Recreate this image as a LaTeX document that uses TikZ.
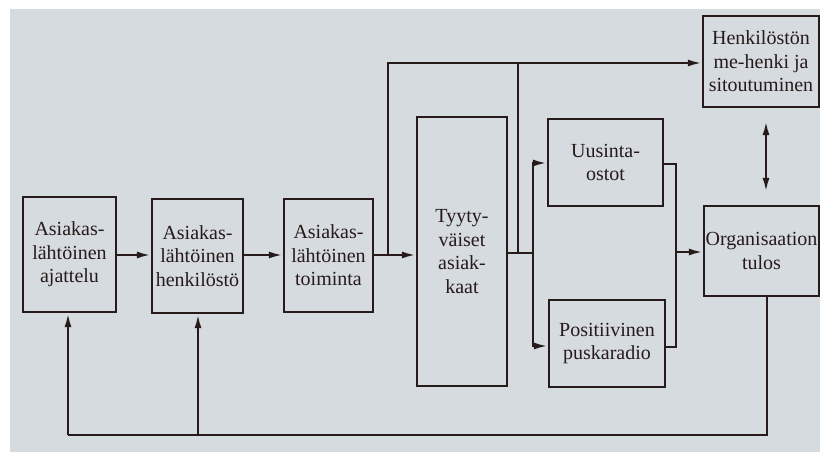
\documentclass[tikz,border=0pt]{standalone}
\usepackage{fontspec}
\setmainfont{Liberation Serif}
\usetikzlibrary{arrows.meta}
\definecolor{paperi}{RGB}{214,219,224}
\definecolor{muste}{RGB}{38,26,26}
\tikzset{
  laatikko/.style={draw=muste, line width=2.4pt, fill=paperi, align=center, inner sep=0pt,
    font=\rmfamily\fontsize{20}{23.5}\selectfont, text=muste},
  nuoli/.style={draw=muste, line width=2.2pt, -{Latex[length=14pt,width=7pt]}},
  viiva/.style={draw=muste, line width=2.2pt}
}
\begin{document}
\begin{tikzpicture}[x=1pt,y=-1pt]
    \useasboundingbox (0,0) rectangle (820,452);
    \fill [white] (0,0) rectangle (820,452);
    \fill [paperi] (10,9) rectangle (820,452);

    % ketjun laatikot
    \node [laatikko, minimum width=93pt, minimum height=115pt] (ajattelu) at (69.5,254.5) {Asiakas-\\lähtöinen\\ajattelu};
    \node [laatikko, minimum width=91pt, minimum height=114pt] (henkilosto) at (197.5,256) {Asiakas-\\lähtöinen\\henkilöstö};
    \node [laatikko, minimum width=89pt, minimum height=113pt] (toiminta) at (328.5,255.5) {Asiakas-\\lähtöinen\\toiminta};
    \node [laatikko, minimum width=90pt, minimum height=269pt] (tyytyvaiset) at (462,251.5) {Tyyty-\\väiset\\asiak-\\kaat};
    \node [laatikko, minimum width=115pt, minimum height=87pt] (uusinta) at (605.5,162.5) {Uusinta-\\ostot};
    \node [laatikko, minimum width=116pt, minimum height=87pt] (puskaradio) at (607,343.5) {Positiivinen\\puskaradio};
    \node [laatikko, minimum width=116pt, minimum height=91pt] (mehenki) at (761,61.5) {Henkilöstön\\me-henki ja\\sitoutuminen};
    \node [laatikko, minimum width=115pt, minimum height=90pt] (tulos) at (761.5,251) {Organisaation\\tulos};

    % apupisteet
    \coordinate (ylos1) at (388,255);
    \coordinate (ylos2) at (518,253);
    \coordinate (haara) at (533,253);
    \coordinate (keraa) at (676,252);
    \coordinate (pohja) at (767,435);

    % eteenpain
    \draw [nuoli] (ajattelu.east |- 0,255) -- (henkilosto.west |- 0,255);
    \draw [nuoli] (henkilosto.east |- 0,255) -- (toiminta.west |- 0,255);
    \draw [nuoli] (toiminta.east |- ylos1) -- (tyytyvaiset.west |- ylos1);
    \draw [nuoli] (ylos1) -- (388,63) -- (mehenki.west |- 0,63);
    \draw [viiva] (ylos2) -- (518,63);
    \draw [viiva] (tyytyvaiset.east |- haara) -- (haara);
    \draw [nuoli] (haara) |- (uusinta.west |- 0,163);
    \draw [nuoli] (haara) |- (puskaradio.west |- 0,346);
    \draw [viiva] (uusinta.east |- 0,164) -| (keraa) |- (puskaradio.east |- 0,347);
    \draw [nuoli] (keraa) -- (tulos.west |- keraa);

    % tulos ja me-henki
    \draw [nuoli, {Latex[length=14pt,width=7pt]}-{Latex[length=14pt,width=7pt]}, shorten <=13pt, shorten >=13pt] (mehenki.south -| 766,0) -- (tulos.north -| 766,0);

    % palaute
    \draw [viiva] (tulos.south -| pohja) -- (pohja) -- (68,435);
    \draw [nuoli] (68,435) -- (ajattelu.south -| 68,0);
    \draw [nuoli] (198,435) -- (henkilosto.south -| 198,0);
\end{tikzpicture}
\end{document}
